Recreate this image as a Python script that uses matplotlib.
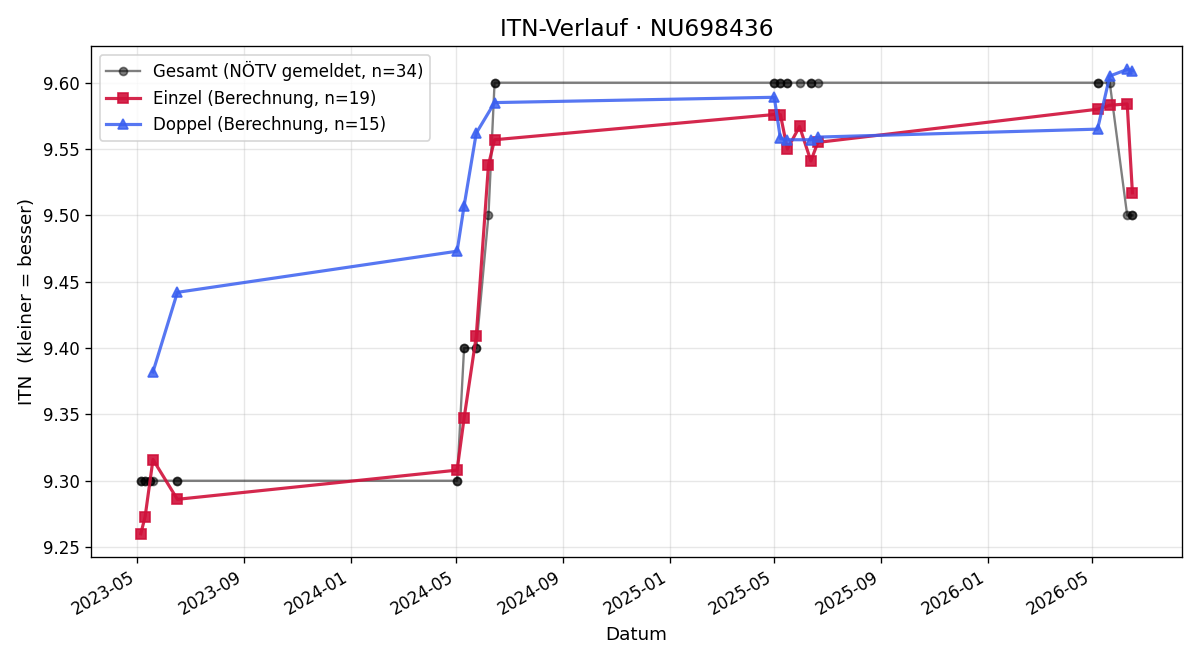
import numpy as np
import pandas as pd
import matplotlib
matplotlib.use("Agg")
import matplotlib.pyplot as plt
import matplotlib.dates as mdates

# Gesamt (NÖTV gemeldet) - duplicate dates overlap on the plot
gesamt_dates = ["2023-05-05", "2023-05-05", "2023-05-10", "2023-05-10", "2023-05-16", "2023-05-16",
                "2023-05-19", "2023-06-16", "2023-06-16",
                "2024-05-02", "2024-05-02", "2024-05-10", "2024-05-10", "2024-05-24", "2024-05-24",
                "2024-06-07", "2024-06-14", "2024-06-14",
                "2025-05-01", "2025-05-01", "2025-05-08", "2025-05-08", "2025-05-16", "2025-05-16",
                "2025-05-30", "2025-06-12", "2025-06-12", "2025-06-20",
                "2026-05-07", "2026-05-07", "2026-05-21", "2026-06-10", "2026-06-16", "2026-06-16"]
gesamt_itn = [9.30, 9.30, 9.30, 9.30, 9.30, 9.30, 9.30, 9.30, 9.30,
              9.30, 9.30, 9.40, 9.40, 9.40, 9.40, 9.50, 9.60, 9.60,
              9.60, 9.60, 9.60, 9.60, 9.60, 9.60, 9.60, 9.60, 9.60, 9.60,
              9.60, 9.60, 9.60, 9.50, 9.50, 9.50]

einzel_dates = ["2023-05-05", "2023-05-10", "2023-05-19", "2023-06-16",
                "2024-05-02", "2024-05-10", "2024-05-24", "2024-06-07", "2024-06-14",
                "2025-05-01", "2025-05-08", "2025-05-16", "2025-05-30", "2025-06-12", "2025-06-20",
                "2026-05-07", "2026-05-21", "2026-06-10", "2026-06-16"]
einzel_itn = [9.260, 9.273, 9.316, 9.286,
              9.308, 9.347, 9.409, 9.538, 9.557,
              9.576, 9.576, 9.550, 9.567, 9.541, 9.555,
              9.580, 9.583, 9.584, 9.517]

doppel_dates = ["2023-05-19", "2023-06-16",
                "2024-05-02", "2024-05-10", "2024-05-24", "2024-06-14",
                "2025-05-01", "2025-05-08", "2025-05-16", "2025-06-12", "2025-06-20",
                "2026-05-07", "2026-05-21", "2026-06-10", "2026-06-16"]
doppel_itn = [9.382, 9.442,
              9.473, 9.507, 9.562, 9.585,
              9.589, 9.558, 9.557, 9.557, 9.559,
              9.565, 9.605, 9.610, 9.609]

fig, ax = plt.subplots(figsize=(10, 5.5), dpi=120)

ax.plot(pd.to_datetime(gesamt_dates), gesamt_itn, color="black", alpha=0.5,
        marker="o", markersize=4.8, linewidth=1.4, label="Gesamt (NÖTV gemeldet, n=34)")
ax.plot(pd.to_datetime(einzel_dates), einzel_itn, color="#d0103a", alpha=0.9,
        marker="s", markersize=6.3, linewidth=1.9, label="Einzel (Berechnung, n=19)")
ax.plot(pd.to_datetime(doppel_dates), doppel_itn, color="#3a5ff0", alpha=0.85,
        marker="^", markersize=6.3, linewidth=1.9, label="Doppel (Berechnung, n=15)")

ax.xaxis.set_major_locator(mdates.MonthLocator(bymonth=[1, 5, 9]))
ax.xaxis.set_major_formatter(mdates.DateFormatter("%Y-%m"))
ax.yaxis.set_major_formatter(matplotlib.ticker.FormatStrFormatter("%.2f"))

ax.grid(True, alpha=0.3)
ax.set_title("ITN-Verlauf · NU698436", fontsize=14)
ax.set_xlabel("Datum", fontsize=11)
ax.set_ylabel("ITN  (kleiner = besser)", fontsize=11)
ax.legend(loc="upper left")
fig.autofmt_xdate()

fig.subplots_adjust(left=0.076, right=0.985, top=0.93, bottom=0.156)
fig.savefig("out.png")
